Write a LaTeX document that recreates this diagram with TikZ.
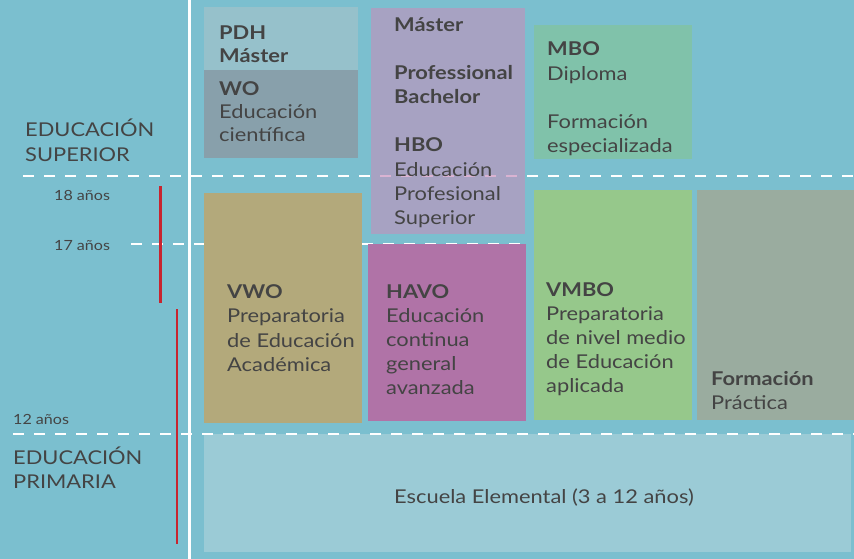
\documentclass[tikz,border=0pt]{standalone}
\usepackage{fontspec}
\setmainfont{Lato}[FakeStretch=1.15]
\definecolor{bg}{HTML}{7BBFCF}
\definecolor{cpdh}{HTML}{96C1CB}
\definecolor{cwo}{HTML}{88A0AB}
\definecolor{cpur}{HTML}{A7A2C2}
\definecolor{cmbo}{HTML}{80C2AA}
\definecolor{cvwo}{HTML}{B3A97B}
\definecolor{chavo}{HTML}{B073A7}
\definecolor{cvmbo}{HTML}{96C88B}
\definecolor{cform}{HTML}{9AAC9F}
\definecolor{cesc}{HTML}{9BCBD6}
\definecolor{ctext}{HTML}{444444}
\definecolor{cred}{HTML}{C8242F}
\definecolor{cpink}{HTML}{D9B3D2}
\begin{document}
\begin{tikzpicture}[x=1pt,y=-1pt,
  txt/.style={anchor=base west,inner sep=0pt,text=ctext,font=\fontsize{19}{23}\selectfont},
  btxt/.style={txt,font=\fontsize{19}{23}\selectfont\bfseries},
  age/.style={anchor=base west,inner sep=0pt,text=ctext,font=\fontsize{14}{17}\selectfont},
  dline/.style={white,line width=2.5pt,dash pattern=on 11pt off 10pt},
  redline/.style={cred,line width=2.5pt}]
\fill[bg] (0,0) rectangle (854,559);
\useasboundingbox (0,0) rectangle (854,559);
% vertical white line
\coordinate (vt) at (189.5,0);
\coordinate (vb) at (189.5,559);
\draw[white,line width=2.5pt] (vt) -- (vb);
% dashed lines
\coordinate (d1a) at (23,176); \coordinate (d1b) at (854,176);
\coordinate (d2a) at (131,244); \coordinate (d2b) at (526,244);
\coordinate (d3a) at (13,434); \coordinate (d3b) at (854,434);
\draw[dline] (d1a) -- (d1b);
\draw[dline] (d2a) -- (d2b);
% boxes
\fill[cpdh] (204,7) rectangle (358,70);
\fill[cwo] (204,70) rectangle (358,158);
\fill[cpur] (371,8) rectangle (525,234);
\fill[cmbo] (534,25) rectangle (692,159);
\fill[cvwo] (204,193) rectangle (362,423);
\fill[chavo] (368,244) rectangle (526,421);
\fill[cvmbo] (534,190) rectangle (692,420);
\fill[cform] (697,190) rectangle (854,420);
\fill[cesc] (204,434) rectangle (851,552);
% dashes over the purple box
\begin{scope}
\clip (371,8) rectangle (525,234);
\draw[dline,cpink] (d1a) -- (d1b);
\end{scope}
\draw[dline] (d3a) -- (d3b);
% red lines
\coordinate (r1a) at (160.3,186); \coordinate (r1b) at (160.3,303);
\coordinate (r2a) at (177,309); \coordinate (r2b) at (177,544);
\draw[redline] (r1a) -- (r1b);
\draw[redline] (r2a) -- (r2b);
% left labels
\node[txt] (es1) at (25,137) {EDUCACIÓN};
\node[txt] (es2) at (25,161) {SUPERIOR};
\node[txt] (ep1) at (13,464) {EDUCACIÓN};
\node[txt] (ep2) at (13,488) {PRIMARIA};
\node[age] (a18) at (54,200) {18 años};
\node[age] (a17) at (54,250) {17 años};
\node[age] (a12) at (13,424) {12 años};
% PDH / WO
\node[btxt] (pdh) at (219,40) {PDH};
\node[btxt] (pdhm) at (219,63) {Máster};
\node[btxt] (wo) at (219,96) {WO};
\node[txt] (wo1) at (219,119) {Educación};
\node[txt] (wo2) at (219,142) {científica};
% HBO
\node[btxt] (hm) at (394,32) {Máster};
\node[btxt] (hp1) at (394,80) {Professional};
\node[btxt] (hp2) at (394,104) {Bachelor};
\node[btxt] (hbo) at (394,152) {HBO};
\node[txt] (hbo1) at (394,176) {Educación};
\node[txt] (hbo2) at (394,200) {Profesional};
\node[txt] (hbo3) at (394,224) {Superior};
% MBO
\node[btxt] (mbo) at (547,56) {MBO};
\node[txt] (mbo1) at (547,81) {Diploma};
\node[txt] (mbo2) at (547,129) {Formación};
\node[txt] (mbo3) at (547,153) {especializada};
% VWO
\node[btxt] (vwo) at (227,298) {VWO};
\node[txt] (vwo1) at (227,322) {Preparatoria};
\node[txt] (vwo2) at (227,347) {de Educación};
\node[txt] (vwo3) at (227,371) {Académica};
% HAVO
\node[btxt] (havo) at (386,298) {HAVO};
\node[txt] (havo1) at (386,322) {Educación};
\node[txt] (havo2) at (386,346) {continua};
\node[txt] (havo3) at (386,370) {general};
\node[txt] (havo4) at (386,394) {avanzada};
% VMBO
\node[btxt] (vmbo) at (546,296) {VMBO};
\node[txt] (vmbo1) at (546,320) {Preparatoria};
\node[txt] (vmbo2) at (546,344) {de nivel medio};
\node[txt] (vmbo3) at (546,368) {de Educación};
\node[txt] (vmbo4) at (546,392) {aplicada};
% Formacion practica
\node[btxt] (fp1) at (711,385) {Formación};
\node[txt] (fp2) at (711,409) {Práctica};
% Escuela
\node[txt,anchor=base] (esc) at (544,503) {Escuela Elemental (3 a 12 años)};
\end{tikzpicture}
\end{document}
